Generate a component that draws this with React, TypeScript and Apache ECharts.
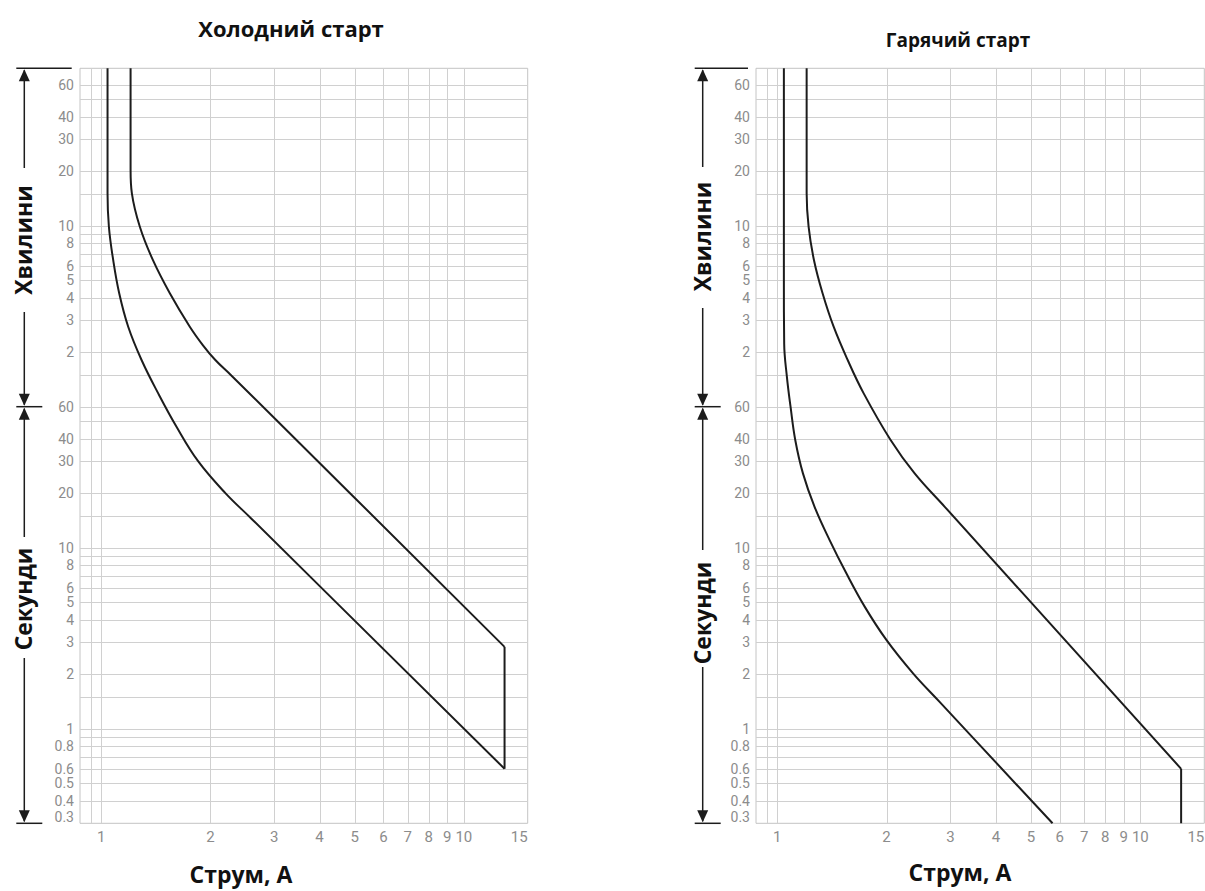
import React, { useEffect, useRef } from "react";
import * as echarts from "echarts";

// Current axis (A), logarithmic
const currentRange = [0.874, 15];
const currentTickLabels = [1, 2, 3, 4, 5, 6, 7, 8, 9, 10, 15];
const currentGridLines = [0.935, 1, 2, 3, 4, 5, 6, 7, 8, 9, 10];

// Time axis, logarithmic, stored in seconds
const timeRange = [0.3, 4440];
const secondLabels = [0.3, 0.4, 0.5, 0.6, 0.8, 1, 2, 3, 4, 5, 6, 8, 10, 20, 30, 40, 60];
const minuteLabels = [2, 3, 4, 5, 6, 8, 10, 20, 30, 40, 60];
const secondGridLines = [0.4, 0.5, 0.6, 0.7, 0.8, 0.9, 1, 1.5, 2, 3, 4, 5, 6, 7, 8, 9, 10, 15, 20, 30, 40, 50, 60];
const minuteGridLines = [1.5, 2, 3, 4, 5, 6, 7, 8, 9, 10, 15, 20, 30, 40, 50, 60];

// Cold start tripping band: [current A, time s]
const coldInner = [
  [1.041, 4440], [1.041, 907], [1.05, 592], [1.079, 388], [1.121, 254], [1.187, 166],
  [1.292, 108.7], [1.436, 71.1], [1.613, 46.5], [1.85, 30], [2.2, 20], [2.6, 14.4],
  [12.95, 0.6],
];
const coldOuter = [
  [1.205, 4440], [1.205, 1218], [1.215, 905], [1.278, 592], [1.388, 388], [1.546, 254],
  [1.755, 166], [1.906, 131.5], [2.064, 108.7], [2.277, 89.8], [3.04, 50.7], [12.95, 2.83],
];
const coldCap = [[12.95, 0.6], [12.95, 2.83]];

// Hot start tripping band
const hotInner = [
  [1.043, 4440], [1.043, 300], [1.045, 134], [1.063, 88], [1.088, 60], [1.121, 39.3],
  [1.177, 25.7], [1.267, 16.8], [1.394, 11], [1.55, 7.21], [1.741, 4.72], [1.998, 3.09],
  [2.366, 2.02], [2.8, 1.405], [5.73, 0.3],
];
const hotOuter = [
  [1.205, 4440], [1.205, 907], [1.22, 592], [1.262, 388], [1.333, 254], [1.43, 166],
  [1.563, 108.7], [1.73, 71.1], [2.052, 39.3], [2.39, 25.7], [2.893, 16.8], [12.95, 0.6],
];
const hotCap = [[12.95, 0.6], [12.95, 0.3]];

const GRID_COLOR = "#d0d0d0";
const LABEL_COLOR = "#8c8c8c";
const INK = "#1c1c1c";
const NUM_FONT = "Roboto, 'DejaVu Sans', sans-serif";
const BOLD_FONT = "'Open Sans', 'Noto Sans', sans-serif";

const timeLabelItems = [
  ...secondLabels.map((v) => ({ t: v, text: String(v) })),
  ...minuteLabels.map((m) => ({ t: m * 60, text: String(m) })),
];
const timeGridValues = [...secondGridLines, ...minuteGridLines.map((m) => m * 60)];

function panelSeries(idx: number, curves: number[][][], caps: number[][][]) {
  const axis = { xAxisIndex: idx, yAxisIndex: idx };
  const list: any[] = [];

  list.push({
    type: "custom",
    ...axis,
    silent: true,
    z: 1,
    data: currentGridLines.map((v) => [v, timeRange[0]]),
    encode: { x: 0, y: 1 },
    renderItem: (_p: any, api: any) => {
      const v = api.value(0);
      const a = api.coord([v, timeRange[0]]);
      const b = api.coord([v, timeRange[1]]);
      const x = Math.round(a[0]) + 0.5;
      return { type: "line", shape: { x1: x, y1: a[1], x2: x, y2: b[1] }, style: { stroke: GRID_COLOR, lineWidth: 1 } };
    },
  });

  list.push({
    type: "custom",
    ...axis,
    silent: true,
    z: 1,
    data: timeGridValues.map((t) => [currentRange[0], t]),
    encode: { x: 0, y: 1 },
    renderItem: (_p: any, api: any) => {
      const t = api.value(1);
      const a = api.coord([currentRange[0], t]);
      const b = api.coord([currentRange[1], t]);
      const y = Math.round(a[1]) + 0.5;
      return { type: "line", shape: { x1: a[0], y1: y, x2: b[0], y2: y }, style: { stroke: GRID_COLOR, lineWidth: 1 } };
    },
  });

  list.push({
    type: "custom",
    ...axis,
    silent: true,
    z: 2,
    data: timeLabelItems.map((d) => [currentRange[0], d.t]),
    encode: { x: 0, y: 1 },
    renderItem: (p: any, api: any) => {
      const item = timeLabelItems[p.dataIndex];
      const a = api.coord([currentRange[0], item.t]);
      const atBottom = item.t === timeRange[0];
      return {
        type: "text",
        x: a[0] - 6,
        y: atBottom ? a[1] + 1 : a[1],
        style: {
          text: item.text,
          fill: LABEL_COLOR,
          font: `14px ${NUM_FONT}`,
          align: "right",
          verticalAlign: atBottom ? "bottom" : "middle",
        },
      };
    },
  });

  list.push({
    type: "custom",
    ...axis,
    silent: true,
    z: 2,
    data: currentTickLabels.map((v) => [v, timeRange[0]]),
    encode: { x: 0, y: 1 },
    renderItem: (p: any, api: any) => {
      const v = currentTickLabels[p.dataIndex];
      const a = api.coord([v, timeRange[0]]);
      const atEdge = v === currentRange[1];
      return {
        type: "text",
        x: a[0],
        y: a[1] + 14,
        style: {
          text: String(v),
          fill: LABEL_COLOR,
          font: `15px ${NUM_FONT}`,
          align: atEdge ? "right" : "center",
          verticalAlign: "middle",
        },
      };
    },
  });

  curves.forEach((c) => {
    list.push({
      type: "line",
      ...axis,
      data: c,
      symbol: "none",
      smooth: 0.4,
      lineStyle: { color: INK, width: 2 },
      z: 3,
      silent: true,
    });
  });
  caps.forEach((c) => {
    list.push({
      type: "line",
      ...axis,
      data: c,
      symbol: "none",
      lineStyle: { color: INK, width: 2 },
      z: 3,
      silent: true,
    });
  });
  return list;
}

function sideMarkers(x: number, topTickEnd: number, g: { minGap: number[]; secGap: number[]; minText: number; secText: number }) {
  const top = 68.3;
  const mid = 406.7;
  const bottom = 823.3;
  const ls = { stroke: INK, lineWidth: 1.5 };
  const head = (tipY: number, dir: number) => ({
    type: "polygon",
    shape: { points: [[x, tipY], [x - 5.5, tipY + dir * 12], [x + 5.5, tipY + dir * 12]] },
    style: { fill: INK },
  });
  const seg = (y1: number, y2: number) => ({ type: "line", shape: { x1: x, y1, x2: x, y2 }, style: ls });
  const tick = (y: number, x1: number, x2: number) => ({ type: "line", shape: { x1, y1: y, x2, y2: y }, style: ls });
  const label = (text: string, cy: number) => ({
    type: "text",
    x: x - 1,
    y: cy,
    rotation: Math.PI / 2,
    style: { text, fill: "#111", font: `bold 23px ${BOLD_FONT}`, align: "center", verticalAlign: "middle" },
  });
  return [
    tick(top, x - 8, topTickEnd),
    tick(mid, x - 8, x + 18),
    tick(bottom, x - 8, x + 18),
    seg(top + 2, g.minGap[0]),
    seg(g.minGap[1], mid - 2),
    seg(mid + 2, g.secGap[0]),
    seg(g.secGap[1], bottom - 2),
    head(top + 1, 1),
    head(mid - 1, -1),
    head(mid + 1, 1),
    head(bottom - 1, -1),
    label("Хвилини", g.minText),
    label("Секунди", g.secText),
  ];
}

export default function App() {
  const ref = useRef<HTMLDivElement>(null);

  useEffect(() => {
    if (!ref.current) return;
    const chart = echarts.init(ref.current, undefined, { renderer: "svg" });

    const gridBase = {
      top: 68.3,
      height: 755,
      show: true,
      borderColor: "#c4c4c4",
      borderWidth: 1,
      backgroundColor: "transparent",
    };
    const xBase = {
      type: "log",
      logBase: 10,
      min: currentRange[0],
      max: currentRange[1],
      axisLine: { show: false },
      axisTick: { show: false },
      axisLabel: { show: false },
      splitLine: { show: false },
    };
    const yBase = {
      type: "log",
      logBase: 10,
      min: timeRange[0],
      max: timeRange[1],
      axisLine: { show: false },
      axisTick: { show: false },
      axisLabel: { show: false },
      splitLine: { show: false },
    };

    chart.setOption({
      animation: false,
      backgroundColor: "#ffffff",
      grid: [
        { ...gridBase, left: 80, width: 447.7 },
        { ...gridBase, left: 756, width: 448.3 },
      ],
      xAxis: [
        { ...xBase, gridIndex: 0 },
        { ...xBase, gridIndex: 1 },
      ],
      yAxis: [
        { ...yBase, gridIndex: 0 },
        { ...yBase, gridIndex: 1 },
      ],
      series: [
        ...panelSeries(0, [coldInner, coldOuter], [coldCap]),
        ...panelSeries(1, [hotInner, hotOuter], [hotCap]),
      ],
      graphic: [
        {
          type: "text",
          x: 291,
          y: 28,
          style: { text: "Холодний старт", fill: "#111", font: `bold 22px ${BOLD_FONT}`, align: "center", verticalAlign: "middle" },
        },
        {
          type: "text",
          x: 958,
          y: 40,
          style: { text: "Гарячий старт", fill: "#111", font: `bold 19px ${BOLD_FONT}`, align: "center", verticalAlign: "middle" },
        },
        {
          type: "text",
          x: 241,
          y: 874,
          style: { text: "Струм, А", fill: "#111", font: `bold 23px ${BOLD_FONT}`, align: "center", verticalAlign: "middle" },
        },
        {
          type: "text",
          x: 960,
          y: 872,
          style: { text: "Струм, А", fill: "#111", font: `bold 23px ${BOLD_FONT}`, align: "center", verticalAlign: "middle" },
        },
        ...sideMarkers(24.3, 71.7, { minGap: [168, 312], secGap: [537, 658], minText: 240, secText: 599 }),
        ...sideMarkers(702.7, 748, { minGap: [167, 308], secGap: [550, 667], minText: 236.5, secText: 613 }),
      ],
    });

    return () => chart.dispose();
  }, []);

  return (
    <div
      ref={ref}
      style={{ position: "absolute", left: 0, top: 0, width: 1205, height: 891, background: "#fff" }}
    />
  );
}
